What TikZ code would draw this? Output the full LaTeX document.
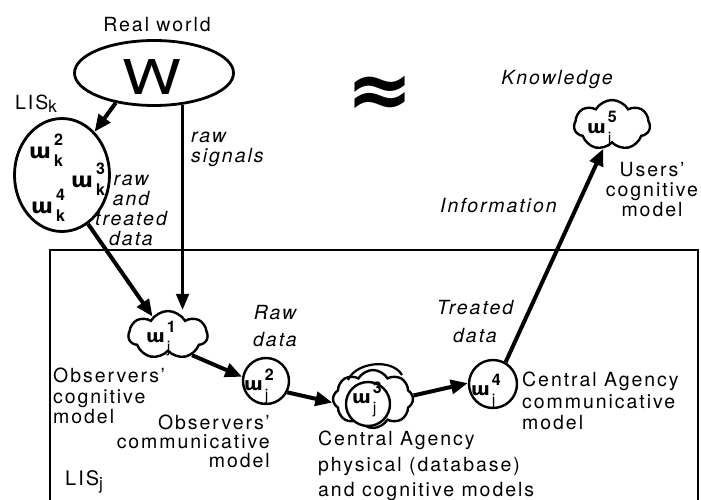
\documentclass[tikz,border=0pt]{standalone}
\usepackage{fontspec}
\usepackage{graphicx}
\setmainfont{TeX Gyre Heros}[LetterSpace=10]
\newfontfamily\plainf{TeX Gyre Heros}
\newfontfamily\wfont{DejaVu Sans}
\usetikzlibrary{arrows.meta,shapes.geometric,shapes.symbols}
\newcommand\omK[2]{{\fontsize{21}{21}\selectfont\wfont\bfseries ɯ}\kern3pt\raisebox{-8pt}{\fontsize{16}{21}\selectfont\plainf\bfseries\begin{tabular}[b]{@{}l@{}}#1\\#2\end{tabular}}}
\newcommand\omJ[2]{{\fontsize{18}{18}\selectfont\wfont\bfseries ɯ}\kern2pt\raisebox{-10pt}{\fontsize{16}{20}\selectfont\plainf\begin{tabular}[b]{@{}l@{}}\bfseries #1\\#2\end{tabular}}}
\tikzset{
  txt/.style={inner sep=0pt, font=\fontsize{19.5}{20}\selectfont},
  itx/.style={inner sep=0pt, font=\fontsize{19.5}{20}\selectfont\itshape},
  lab/.style={inner sep=0pt, anchor=base west},
  ell/.style={ellipse, draw, line width=2.8pt, inner sep=0pt},
  circ/.style={circle, draw, line width=2.4pt, inner sep=0pt, fill=white},
  cld/.style={cloud, draw, line width=2.4pt, inner sep=0pt, cloud puffs=7, cloud puff arc=120, aspect=1.6},
  arr/.style={line width=4pt, -{Triangle[length=17pt,width=14pt]}},
  arrs/.style={line width=2.2pt, -{Triangle[length=16pt,width=13pt]}},
}
\begin{document}
\begin{tikzpicture}[x=1pt,y=-1pt]
\useasboundingbox (0,0) rectangle (701,500);
% frame LIS_j
\draw[line width=1.3pt] (50,503) -- (50,250) -- (698,250) -- (698,503);
% real world
\node[txt, anchor=north] (rw) at (157,17) {Real world};
\node[ell, minimum width=159pt, minimum height=65pt] (W) at (154,73) {};
\node[inner sep=0pt] (Wl) at (152,77) {\plainf\fontsize{48}{48}\selectfont\scalebox{1.3}[1]{W}};
% LIS_k
\node[txt, anchor=north west] (lisk) at (15,95) {LIS\raisebox{-3pt}{\fontsize{17}{17}\selectfont k}};
\node[ell, minimum width=95pt, minimum height=113pt] (K) at (62,175) {};
\node[lab] (wk2) at (29,158) {\omK{2}{k}};
\node[lab] (wk3) at (71,187) {\omK{3}{k}};
\node[lab] (wk4) at (31,213) {\omK{4}{k}};
\node[itx, anchor=north west, align=left] (rs) at (191,132) {raw\\signals};
\node[itx, anchor=north, align=center] (rtd) at (131,175) {raw\\and\\treated\\data};
% approx
\node[inner sep=0pt] (apx) at (380,97) {\wfont\bfseries\fontsize{80}{80}\selectfont ≈};
% users
\node[itx, anchor=north] (kn) at (557,70) {Knowledge};
\node[cld, minimum width=76pt, minimum height=50pt] (J5) at (612,125) {};
\node[lab] (J5l) at (587,133) {\omJ{5}{j}};
\node[txt, anchor=north, align=center] (ucm) at (652,162) {Users'\\cognitive\\model};
\node[itx, anchor=north west] (inf) at (440,198) {Information};
% LIS_j
\node[txt, anchor=north west, font=\fontsize{20}{20}\selectfont] (lisj) at (65,470) {LIS\raisebox{-4pt}{\fontsize{17}{17}\selectfont j}};
\node[cld, minimum width=79pt, minimum height=48pt] (J1) at (168,335) {};
\node[lab] (J1l) at (146,342) {\omJ{1}{j}};
\node[txt, anchor=north west, align=left, font=\fontsize{19.5}{20.5}\selectfont] (ocm) at (53,368) {Observers'\\cognitive\\model};
\node[circ, minimum size=46pt] (J2) at (266,381) {};
\node[lab] (J2l) at (244,390) {\omJ{2}{j}};
\node[itx, anchor=north, align=center, font=\fontsize{19.5}{27}\selectfont\itshape] (rd) at (275,305) {Raw\\data};
\node[txt, anchor=north east, align=right, font=\fontsize{19.5}{19}\selectfont] (ocom) at (270,415) {Observers'\\communicative\\model};
\node[cld, cloud puffs=8, minimum width=80pt, minimum height=58pt] (J3) at (373,399) {};
\draw[line width=2.2pt] (348,380) .. controls (356,362) and (392,358) .. (402,375);
\node[circ, minimum size=44pt] (J3c) at (368,404) {};
\node[lab] (J3l) at (352,403) {\omJ{3}{j}};
\node[txt, anchor=north west, align=left, font=\fontsize{19.5}{25.5}\selectfont] (cap) at (318,431) {Central Agency\\physical (database)\\and cognitive models};
\node[itx, anchor=north, align=center, font=\fontsize{19.5}{28}\selectfont\itshape] (td) at (475,300) {Treated\\data};
\node[circ, minimum size=48pt] (J4) at (493,384) {};
\node[lab] (J4l) at (471,395) {\omJ{4}{j}};
\node[txt, anchor=north west, align=left, font=\fontsize{19.5}{21.5}\selectfont] (cacm) at (522,372) {Central Agency\\communicative\\model};
% connectors
\draw[arr] (W.218) -- (K.53);
\draw[arrs] (W.312) -- (W.312 |- J1.north);
\draw[arr] (K.298) -- (J1.130);
\draw[arr] (J1.-40) -- (J2.170);
\draw[arr] (J2.-28) -- (J3.185);
\draw[arr] (J3.5) -- (J4.178);
\draw[arr] (J4.60) -- (J5.250);
\end{tikzpicture}
\end{document}
